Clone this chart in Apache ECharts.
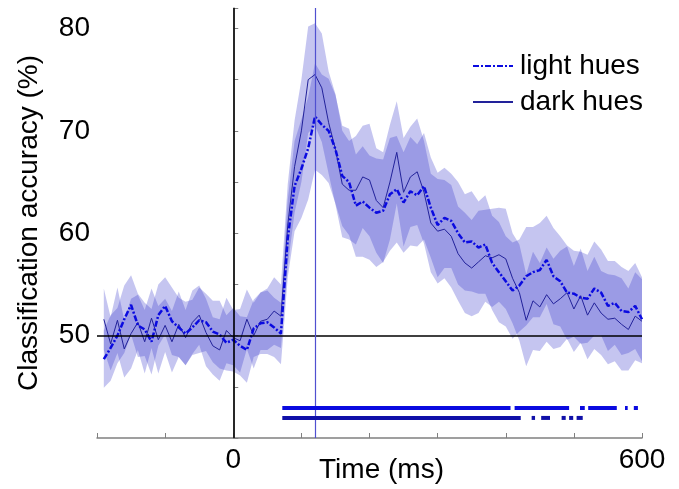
<!DOCTYPE html>
<html>
<head>
<meta charset="utf-8">
<script src="https://cdn.jsdelivr.net/npm/echarts@6/dist/echarts.min.js"></script>
<style>
html,body{margin:0;padding:0;background:#fff;}
#chart{width:679px;height:489px;}
</style>
</head>
<body>
<div id="chart"></div>
<script>
// Time points (ms)
const times = [-190,-180,-170,-160,-150,-140,-130,-120,-110,-100,-90,-80,-70,-60,-50,-40,-30,-20,-10,0,
  10,20,30,40,50,60,70,80,90,100,110,120,130,140,150,160,170,180,190,200,
  210,220,230,240,250,260,270,280,290,300,310,320,330,340,350,360,370,380,390,400,
  410,420,430,440,450,460,470,480,490,500,510,520,530,540,550,560,570,580,590,600];

// Mean classification accuracy (%) — light hues
const lightMean = [47.7,48.8,50,51.6,53,51,50.6,49.4,52,52.9,51.4,50.8,50.2,50.8,51.5,51.3,50.4,50.1,49.3,49.6,
  49,48.6,50.7,51.2,51.3,50.8,50.2,59.5,64.6,66.3,68.3,71.4,70.6,70,68.2,65.6,65,62.7,63.1,62.5,
  62,62.2,63.8,64.3,63,64.1,63.7,64.6,62.5,60.8,61.5,61.2,60,59.1,59.2,58.6,58.9,57.1,56.2,55.3,
  54.4,54.9,55.8,56.2,56.4,57.4,55.8,55.3,54.2,54.1,53.7,53.6,54.6,54.2,52.9,53.2,52.4,52.3,52.9,51.6];

// Mean classification accuracy (%) — dark hues
const darkMean = [51.6,49.2,51.5,48.7,50.2,51.3,49.4,51.7,49.6,51,49.4,51.1,49.8,51.3,52,50.3,49,48.6,50.5,49.8,
  49.5,51.6,50,51.4,51.6,52.4,51.9,60.8,66.5,70,75,75.5,74.2,70.8,68.2,64.8,64.2,64.2,65.5,65.2,
  63.2,62.5,65,67.9,64,65.5,66,64,61,60.2,60.4,59.7,58,57.1,56.6,57.2,57.8,57.6,57.9,57.5,
  55.6,54.2,51.5,53.4,52.8,54,53.1,53.6,54.2,52.6,53.9,52,53.2,52.2,51.6,51.7,51.1,50.6,51.9,51.4];

// Error half-widths (%) of the shaded bands
const lightErr = [2.8,3.2,2.7,3.3,2.9,3.1,2.6,3.2,3.0,2.8,3.3,2.9,3.1,2.7,3.2,2.8,3.0,3.3,2.7,3.1,
  2.9,3.2,2.8,3.0,3.1,2.9,3.0,3.8,4.4,4.8,5.0,5.2,4.9,5.1,5.3,4.9,5.2,5.0,5.4,5.1,
  5.3,5.0,5.5,5.2,4.9,5.3,5.0,5.2,4.9,5.1,4.9,4.6,5.0,4.7,4.9,4.5,4.8,4.6,4.9,4.4,
  4.7,4.5,4.8,4.4,4.6,4.3,4.7,4.4,4.6,4.2,4.5,4.3,4.6,4.2,4.4,4.1,4.3,4.0,4.2,4.1];
const darkErr = [3.0,2.6,3.2,2.8,3.4,2.7,3.1,2.9,3.3,2.6,3.0,3.2,2.7,3.1,2.9,3.3,2.8,3.0,3.2,2.7,
  3.1,2.9,3.2,2.8,3.0,3.3,3.1,4.0,4.5,5.0,5.2,5.0,5.3,5.0,5.4,5.2,4.8,5.3,5.0,5.5,
  5.1,5.4,5.6,5.0,5.3,4.9,5.2,5.0,4.8,5.1,4.8,5.0,4.6,4.9,4.7,5.0,4.5,4.8,4.6,4.9,
  4.4,4.7,4.5,4.8,4.3,4.6,4.4,4.7,4.5,4.2,4.6,4.3,4.5,4.1,4.4,4.2,4.5,4.0,4.3,4.1];

// Significant time windows (ms)
const lightSig = [[72,407],[413,493],[509,516],[521,563],[575,579],[588,594]];
const darkSig = [[72,422],[438,443],[452,465],[482,488],[493,499],[504,513]];

const chanceLevel = 50;
const stimOnset = 0;
const peakTime = 120;
const xTicks = [0, 600];
const yTickLabels = [50, 60, 70, 80];

const FONT = "'Liberation Sans', Arial, sans-serif";
const bandColor = 'rgba(45,45,200,0.28)';

function pairs(vals) { return times.map((t, i) => [t, vals[i]]); }

function bandSeries(name, mean, err) {
  return {
    name: name, type: 'custom', z: 1, silent: true, clip: true,
    data: times.map((t, i) => [t, mean[i]]),
    renderItem: function (params, api) {
      if (params.dataIndex !== 0) return null;
      const up = times.map((t, i) => api.coord([t, mean[i] + err[i]]));
      const lo = times.map((t, i) => api.coord([t, mean[i] - err[i]])).reverse();
      return { type: 'polygon', shape: { points: up.concat(lo) }, style: { fill: bandColor } };
    }
  };
}

function sigSeries(name, data, level, color) {
  return {
    name: name, type: 'custom', z: 5, silent: true,
    data: data,
    renderItem: function (params, api) {
      const s = api.coord([api.value(0), level]);
      const e = api.coord([api.value(1), level]);
      return { type: 'rect', shape: { x: s[0], y: s[1] - 2, width: e[0] - s[0], height: 4 }, style: { fill: color } };
    }
  };
}

const chart = echarts.init(document.getElementById('chart'));
chart.setOption({
  animation: false,
  backgroundColor: '#fff',
  grid: { left: 97, right: 37, top: 8, bottom: 51, containLabel: false, outerBoundsMode: 'none' },
  legend: {
    data: ['light hues', 'dark hues'],
    orient: 'vertical', left: 467, top: 47,
    itemWidth: 40, itemHeight: 14, itemGap: 8,
    itemStyle: { opacity: 0 },
    textStyle: { fontSize: 28, color: '#000', fontFamily: FONT, padding: [0, 0, 0, 2] },
    selectedMode: false
  },
  xAxis: {
    type: 'value', min: -200, max: 600, interval: 100,
    axisLine: { lineStyle: { color: '#808080', width: 1.5 } },
    axisTick: { inside: true, length: 5, lineStyle: { color: '#808080' } },
    splitLine: { show: false },
    axisLabel: {
      fontSize: 28, color: '#000', fontFamily: FONT, margin: 8,
      formatter: v => xTicks.indexOf(v) >= 0 ? String(v) : ''
    },
    name: 'Time (ms)', nameLocation: 'middle', nameGap: 18, nameMoveOverlap: false,
    nameTextStyle: { fontSize: 28, color: '#000', fontFamily: FONT, padding: [0, 0, 0, 24] }
  },
  yAxis: {
    type: 'value', min: 40, max: 82, interval: 5,
    axisLine: { lineStyle: { color: '#808080', width: 1.5 } },
    axisTick: { inside: true, length: 5, lineStyle: { color: '#808080' } },
    splitLine: { show: false },
    axisLabel: {
      fontSize: 28, color: '#000', fontFamily: FONT, margin: 7,
      formatter: v => yTickLabels.indexOf(v) >= 0 ? String(v) : ''
    },
    name: 'Classification accuracy (%)', nameLocation: 'middle', nameGap: 54, nameRotate: 90,
    nameMoveOverlap: false,
    nameTextStyle: { fontSize: 28, color: '#000', fontFamily: FONT }
  },
  series: [
    bandSeries('lightBand', lightMean, lightErr),
    bandSeries('darkBand', darkMean, darkErr),
    {
      name: 'refs', type: 'line', data: [], z: 2, silent: true,
      markLine: {
        symbol: 'none', silent: true, animation: false, label: { show: false },
        data: [
          { yAxis: chanceLevel, lineStyle: { color: '#000', width: 1.5, type: 'solid' } },
          { xAxis: stimOnset, lineStyle: { color: '#000', width: 1.5, type: 'solid' } },
          { xAxis: peakTime, lineStyle: { color: '#5050d0', width: 1.2, type: 'solid' } }
        ]
      }
    },
    { name: 'dark hues', type: 'line', data: pairs(darkMean), symbol: 'none', z: 3,
      lineStyle: { color: '#22229a', width: 1 }, itemStyle: { color: '#22229a' } },
    { name: 'light hues', type: 'line', data: pairs(lightMean), symbol: 'none', z: 4,
      lineStyle: { color: '#0a0ae0', width: 2.5, type: [6, 2, 2, 2] }, itemStyle: { color: '#0a0ae0' } },
    sigSeries('lightSig', lightSig, 42.93, '#0a0ae0'),
    sigSeries('darkSig', darkSig, 41.96, '#1010a8')
  ]
});
</script>
</body>
</html>
